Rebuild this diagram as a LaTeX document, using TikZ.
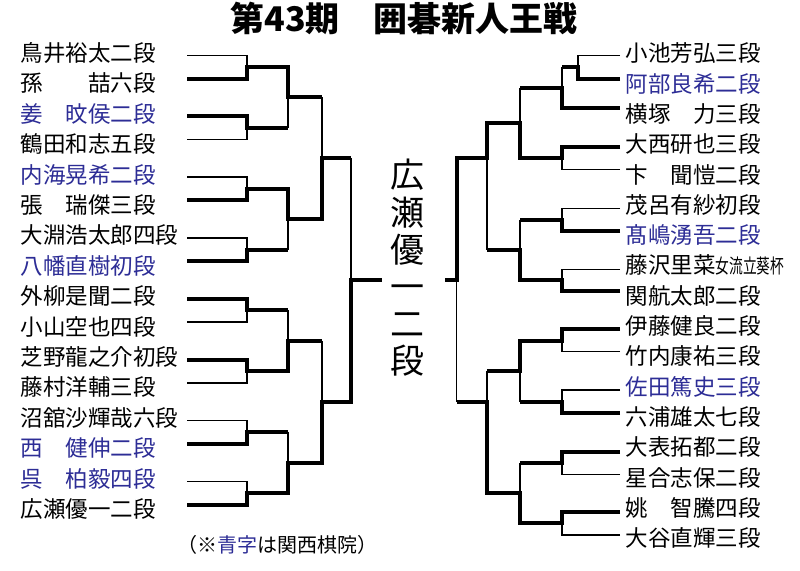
\documentclass[tikz,border=0pt]{standalone}
\usepackage{fontspec}
\usepackage{graphicx}
\setmainfont{Noto Sans CJK JP}
\definecolor{kansai}{RGB}{45,45,150}
\begin{document}
\begin{tikzpicture}[x=1pt,y=-1pt,
  thn/.style={line width=1.3pt,line join=miter},
  thk/.style={line width=4pt,line join=miter},
  pname/.style={anchor=west,inner sep=0pt,text height=19.8pt,text depth=2.7pt,font=\fontsize{22.5}{27}\selectfont},
  kb/.style={text=kansai},
  champ/.style={inner sep=0pt,text height=29.9pt,text depth=4.1pt,font=\fontsize{34}{36}\selectfont},
  titlefont/.style={inner sep=0pt,text height=29.9pt,text depth=4.1pt,font=\fontsize{34}{36}\selectfont\bfseries},
  notefont/.style={inner sep=0pt,text height=17.6pt,text depth=2.4pt,font=\fontsize{20}{22}\selectfont}]
\useasboundingbox (0,0) rectangle (800,570);
\fill[white] (0,0) rectangle (800,570);

% title
\node[titlefont] (title) at (404,19) {第43期　囲碁新人王戦};

% left names
\node[pname] (L0) at (20.5,53.0) {鳥井裕太二段};
\node[pname] (L1) at (20.5,83.4) {孫　　喆六段};
\node[pname,kb] (L2) at (20.5,113.8) {姜　旼侯二段};
\node[pname] (L3) at (20.5,144.2) {鶴田和志五段};
\node[pname,kb] (L4) at (20.5,174.6) {内海晃希二段};
\node[pname] (L5) at (20.5,205.0) {張　瑞傑三段};
\node[pname] (L6) at (20.5,235.4) {大淵浩太郎四段};
\node[pname,kb] (L7) at (20.5,265.8) {八幡直樹初段};
\node[pname] (L8) at (20.5,296.2) {外柳是聞二段};
\node[pname] (L9) at (20.5,326.6) {小山空也四段};
\node[pname] (L10) at (20.5,357.0) {芝野龍之介初段};
\node[pname] (L11) at (20.5,387.4) {藤村洋輔三段};
\node[pname] (L12) at (20.5,417.8) {沼舘沙輝哉六段};
\node[pname,kb] (L13) at (20.5,448.2) {西　健伸二段};
\node[pname,kb] (L14) at (20.5,478.6) {呉　柏毅四段};
\node[pname] (L15) at (20.5,509.0) {広瀬優一二段};

% right names
\node[pname] (R0) at (625.5,53.3) {小池芳弘三段};
\node[pname,kb] (R1) at (625.5,83.6) {阿部良希二段};
\node[pname] (R2) at (625.5,113.9) {横塚　力三段};
\node[pname] (R3) at (625.5,144.2) {大西研也三段};
\node[pname] (R4) at (625.5,174.5) {卞　聞愷二段};
\node[pname] (R5) at (625.5,204.8) {茂呂有紗初段};
\node[pname,kb] (R6) at (625.5,235.1) {髙嶋湧吾二段};
\node[pname] (R7) at (625.5,265.4) {藤沢里菜\scalebox{0.61}[0.88]{女流立葵杯}};
\node[pname] (R8) at (625.5,295.7) {関航太郎二段};
\node[pname] (R9) at (625.5,326.0) {伊藤健良二段};
\node[pname] (R10) at (625.5,356.3) {竹内康祐三段};
\node[pname,kb] (R11) at (625.5,386.6) {佐田篤史三段};
\node[pname] (R12) at (625.5,416.9) {六浦雄太七段};
\node[pname] (R13) at (625.5,447.2) {大表拓都二段};
\node[pname] (R14) at (625.5,477.5) {星合志保二段};
\node[pname] (R15) at (625.5,507.8) {姚　智騰四段};
\node[pname] (R16) at (625.5,538.1) {大谷直輝三段};

% champion (vertical)
\node[champ] (c1) at (407,175.0) {広};
\node[champ] (c2) at (407,212.2) {瀬};
\node[champ] (c3) at (407,249.4) {優};
\node[champ] (c4) at (407,286.6) {一};
\node[champ] (c5) at (407,323.8) {二};
\node[champ] (c6) at (407,361.0) {段};

% footnote
\node[notefont] (note) at (277,545) {（※\textcolor{kansai}{青字}は関西棋院）};

% ---------- left bracket: thin ----------
\draw[thn] (187,55.3) -| (247,67);
\draw[thn] (187,139.56) -| (247,127.86);
\draw[thn] (187,177.02) -| (247,188.72);
\draw[thn] (187,237.88) -| (247,249.58);
\draw[thn] (187,322.14) -| (247,310.44);
\draw[thn] (187,383.0) -| (247,371.3);
\draw[thn] (187,420.46) -| (247,432.16);
\draw[thn] (187,481.32) -| (247,493.02);
\draw[thn] (288,127.86) -- (288,97.43);
\draw[thn] (288,249.58) -- (288,219.15);
\draw[thn] (288,310.44) -- (288,340.87);
\draw[thn] (288,432.16) -- (288,462.59);
\draw[thn] (322,97.43) -- (322,158.29);
\draw[thn] (322,340.87) -- (322,401.73);
\draw[thn] (351,158.29) -- (351,279.5);

% ---------- left bracket: thick ----------
\draw[thk] (187,78.7) -| (247,67) -| (288,97.43) -- (322,97.43);
\draw[thk] (187,116.16) -| (247,127.86) -- (288,127.86);
\draw[thk] (187,200.42) -| (247,188.72) -| (288,219.15) -| (322,158.29) -- (351,158.29);
\draw[thk] (187,261.28) -| (247,249.58) -- (288,249.58);
\draw[thk] (187,298.74) -| (247,310.44) -- (288,310.44);
\draw[thk] (187,359.6) -| (247,371.3) -| (288,340.87) -- (322,340.87);
\draw[thk] (187,443.86) -| (247,432.16) -- (288,432.16);
\draw[thk] (187,504.72) -| (247,493.02) -| (288,462.59) -| (322,401.73) -| (351,279.5) -- (382,279.5);

% ---------- right bracket: thin ----------
\draw[thn] (620,55.3) -| (578,67);
\draw[thn] (562,67) -- (562,87.7);
\draw[thn] (620,169.3) -| (562,158.3);
\draw[thn] (520,87.7) -- (520,123);
\draw[thn] (620,208.3) -| (562,219.5);
\draw[thn] (620,269.3) -| (562,280);
\draw[thn] (520,219.5) -- (520,249.7);
\draw[thn] (487,249.7) -- (487,158.3);
\draw[thn] (620,351.7) -| (562,340.5);
\draw[thn] (620,390) -| (562,401.7);
\draw[thn] (520,401.7) -- (520,371.1);
\draw[thn] (620,474.5) -| (562,463);
\draw[thn] (620,535) -| (562,523.3);
\draw[thn] (520,463) -- (520,493.1);
\draw[thn] (487,371.1) -- (487,401.7);
\draw[thn] (456.7,401.7) -- (456.7,279.5);

% ---------- right bracket: thick ----------
\draw[thk] (620,78.7) -| (578,67) -- (562,67);
\draw[thk] (620,107.7) -| (562,87.7) -- (520,87.7);
\draw[thk] (620,147.3) -| (562,158.3) -| (520,123) -| (487,158.3) -| (456.7,279.5) -- (445,279.5);
\draw[thk] (620,230.7) -| (562,219.5) -- (520,219.5);
\draw[thk] (620,290.7) -| (562,280) -| (520,249.7) -- (487,249.7);
\draw[thk] (620,329.3) -| (562,340.5) -| (520,371.1) -- (487,371.1);
\draw[thk] (620,413.3) -| (562,401.7) -- (520,401.7);
\draw[thk] (620,451.7) -| (562,463) -- (520,463);
\draw[thk] (620,511.7) -| (562,523.3) -| (520,493.1) -| (487,401.7) -- (456.7,401.7);
\end{tikzpicture}
\end{document}
